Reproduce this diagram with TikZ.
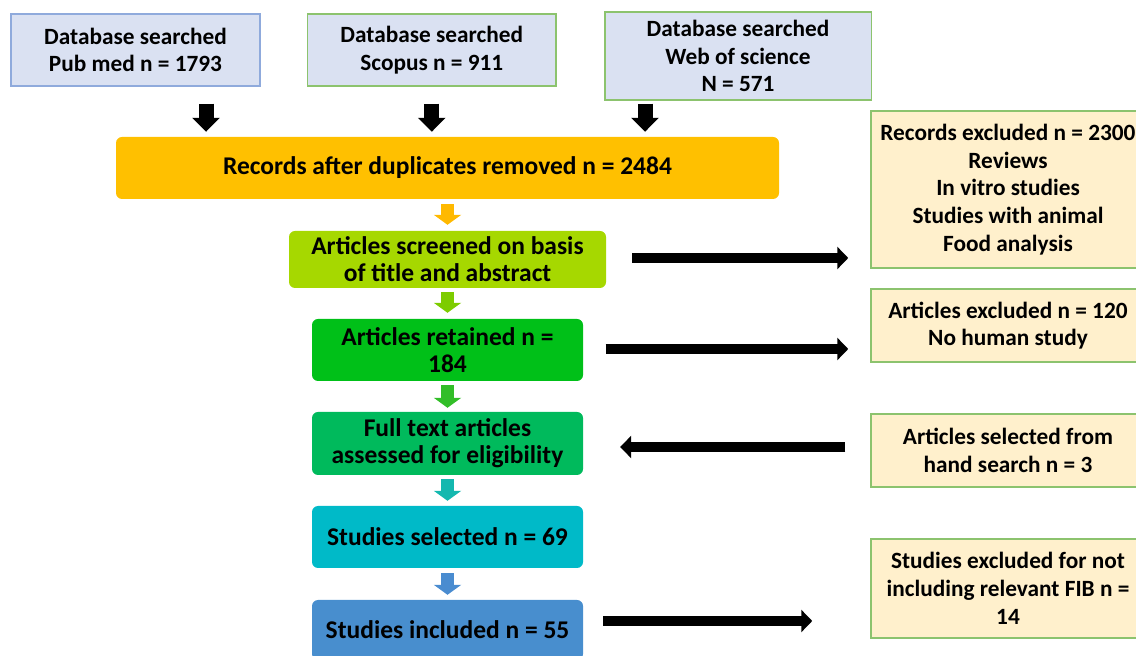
\documentclass[tikz,border=0pt]{standalone}
\usepackage{fontspec}
\setmainfont{Carlito}
\usetikzlibrary{arrows.meta}
\definecolor{topfill}{RGB}{218,225,242}
\definecolor{publine}{RGB}{143,170,220}
\definecolor{grline}{RGB}{140,195,110}
\definecolor{exfill}{RGB}{255,240,204}
\definecolor{cRec}{RGB}{255,192,0}
\definecolor{cScr}{RGB}{166,216,0}
\definecolor{cRet}{RGB}{0,192,24}
\definecolor{cFull}{RGB}{0,186,92}
\definecolor{cSel}{RGB}{0,186,200}
\definecolor{cInc}{RGB}{72,142,206}
\definecolor{aRec}{RGB}{255,185,0}
\definecolor{aScr}{RGB}{125,204,0}
\definecolor{aRet}{RGB}{50,190,40}
\definecolor{aFull}{RGB}{20,184,175}
\definecolor{aSel}{RGB}{74,140,208}
\tikzset{
  txt/.style={font=\bfseries\fontsize{23.3}{27.7}\selectfont, align=center, inner sep=0pt},
  topbox/.style={txt, draw=grline, fill=topfill, line width=1.5pt},
  midbox/.style={txt, rounded corners=6pt, draw=none, font=\bfseries\fontsize{25.5}{27}\selectfont},
  exbox/.style={txt, draw=grline, fill=exfill, line width=1.5pt, minimum width=274pt},
  darrow/.style={line width=15pt, -{Triangle[width=27pt,length=14pt]}},
  sarrow/.style={line width=13pt, -{Triangle[width=27pt,length=10pt]}},
  rarrow/.style={line width=10pt, -{Triangle[width=22pt,length=11pt]}},
}
\begin{document}
\begin{tikzpicture}[x=1pt,y=1pt]
\useasboundingbox (0,0) rectangle (1136,656);
\clip (0,0) rectangle (1136,656);
% top boxes
\node[topbox, draw=publine, minimum width=249pt, minimum height=72pt] (pub) at (135.5,606) {Database searched\\Pub med n = 1793};
\node[topbox, minimum width=248.5pt, minimum height=72pt] (scop) at (431.75,606) {Database searched\\Scopus n = 911};
\node[topbox, minimum width=266.5pt, minimum height=88pt] (wos) at (738,600) {Database searched\\Web of science\\N = 571};
% main column
\node[midbox, fill=cRec, minimum width=663pt, minimum height=62pt] (rec) at (447.5,488) {Records after duplicates removed n = 2484};
\node[midbox, fill=cScr, minimum width=317pt, minimum height=57pt] (scr) at (447.5,396.5) {Articles screened on basis\\of title and abstract};
\node[midbox, fill=cRet, minimum width=271pt, minimum height=62pt] (ret) at (447.5,306) {Articles retained n =\\184};
\node[midbox, fill=cFull, minimum width=271pt, minimum height=63pt] (full) at (447.5,212.5) {Full text articles\\assessed for eligibility};
\node[midbox, fill=cSel, minimum width=271pt, minimum height=62pt] (sel) at (447.5,119) {Studies selected n = 69};
\node[midbox, fill=cInc, minimum width=271pt, minimum height=60pt] (inc) at (447.5,26) {Studies included n = 55};
% right boxes (they run past the right edge)
\node[exbox, minimum height=157pt] (ex1) at (1008,466.5) {Records excluded n = 2300\\Reviews\\In vitro studies\\Studies with animal\\Food analysis};
\node[exbox, minimum height=73pt] (ex2) at (1008,330.5) {Articles excluded n = 120\\No human study};
\node[exbox, minimum height=73pt] (ex3) at (1008,205.5) {Articles selected from\\hand search n = 3};
\node[exbox, minimum height=99pt] (ex4) at (1008,67.5) {Studies excluded for not\\including relevant FIB n =\\14};
% black down arrows
\draw[darrow, shorten <=17pt, shorten >=5pt] ([xshift=70.5pt]pub.south) -- ([xshift=70.5pt]pub.south |- rec.north);
\draw[darrow, shorten <=17pt, shorten >=5pt] (scop.south) -- (scop.south |- rec.north);
\draw[darrow, shorten <=3pt, shorten >=5pt] ([xshift=-93pt]wos.south) -- ([xshift=-93pt]wos.south |- rec.north);
% coloured down arrows
\draw[sarrow, aRec, shorten <=5pt, shorten >=6pt] (rec.south) -- (scr.north);
\draw[sarrow, aScr, shorten <=4pt, shorten >=6pt] (scr.south) -- (ret.north);
\draw[sarrow, aRet, shorten <=4pt, shorten >=4pt] (ret.south) -- (full.north);
\draw[sarrow, aFull, shorten <=4pt, shorten >=5pt] (full.south) -- (sel.north);
\draw[sarrow, aSel, shorten <=5pt, shorten >=5pt] (sel.south) -- (inc.north);
% side arrows
\draw[rarrow, shorten <=26pt, shorten >=22pt] ([yshift=1.5pt]scr.east) -- ([yshift=1.5pt]scr.east -| ex1.west);
\draw[rarrow, shorten <=22.4pt, shorten >=22pt] ([yshift=1pt]ret.east) -- ([yshift=1pt]ret.east -| ex2.west);
\draw[rarrow, shorten <=25pt, shorten >=37pt] ([yshift=3.5pt]ex3.west) -- ([yshift=3.5pt]ex3.west -| full.east);
\draw[rarrow, shorten <=20pt, shorten >=58pt] ([yshift=9pt]inc.east) -- ([yshift=9pt]inc.east -| ex4.west);
\end{tikzpicture}
\end{document}
